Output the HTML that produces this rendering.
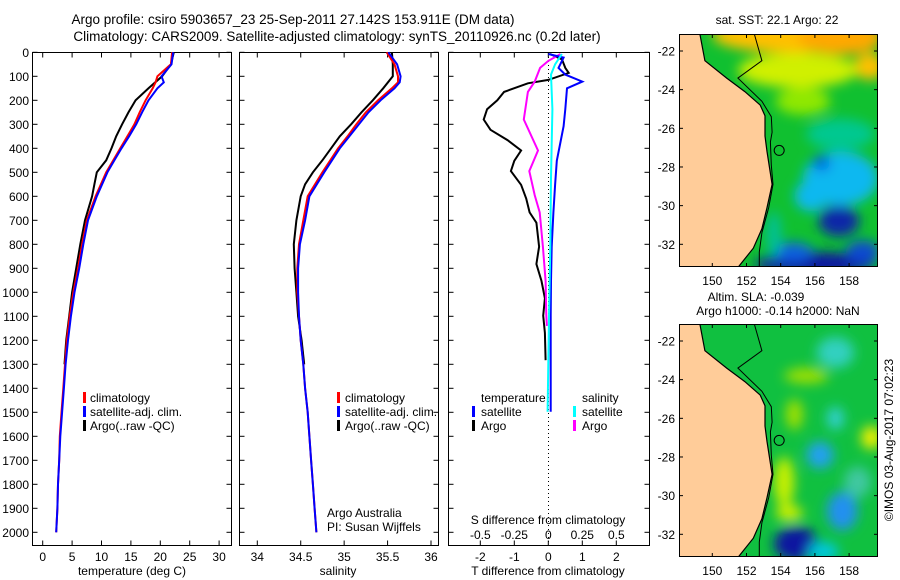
<!DOCTYPE html>
<html><head><meta charset="utf-8">
<style>
body{margin:0;background:#fff;}
svg{display:block;font-family:"Liberation Sans",sans-serif;}
text{fill:#000;}
</style></head>
<body>
<svg id="chart" width="900" height="580" viewBox="0 0 900 580" xmlns="http://www.w3.org/2000/svg">
<defs>
<filter id="blur1" x="-20%" y="-20%" width="140%" height="140%"><feGaussianBlur stdDeviation="6"/></filter>
<clipPath id="clipM1"><rect x="679" y="34" width="199" height="233"/></clipPath>
<clipPath id="clipM2"><rect x="679" y="324" width="199" height="233"/></clipPath>
</defs>
<text x="293" y="24" font-size="13.5" text-anchor="middle">Argo profile: csiro 5903657_23 25-Sep-2011 27.142S 153.911E (DM data)</text>
<text x="337" y="41" font-size="13.5" text-anchor="middle">Climatology: CARS2009. Satellite-adjusted climatology: synTS_20110926.nc (0.2d later)</text>
<g id="panels"></g>
<g id="maps"></g>
<text x="777" y="24" font-size="12" text-anchor="middle">sat. SST: 22.1  Argo: 22</text>
<text x="756" y="301" font-size="12" text-anchor="middle">Altim. SLA: -0.039</text>
<text x="778" y="315" font-size="12" text-anchor="middle">Argo h1000: -0.14 h2000: NaN</text>
<text x="0" y="0" font-size="12" text-anchor="middle" transform="translate(893,440) rotate(-90)">©IMOS 03-Aug-2017 07:02:23</text>
</svg>
<script>
const tDepth=[0,50,100,125,150,200,250,300,350,400,450,500,600,700,800,900,1000,1100,1200,1300,1400,1500,1600,1700,1800,1900,2000];
const tClim=[22.0,21.8,19.5,19.2,18.7,17.5,16.5,15.6,14.4,13.2,12.0,10.8,9.0,7.5,6.7,6.0,5.2,4.6,4.1,3.8,3.5,3.2,2.9,2.8,2.6,2.5,2.3];
const tSat=[22.2,21.9,20.2,20.6,19.5,18.0,16.9,15.9,14.7,13.4,12.2,11.0,9.2,7.7,6.9,6.2,5.4,4.8,4.3,3.9,3.6,3.3,3.0,2.8,2.6,2.5,2.3];
const argoDepth=[0,50,100,150,200,250,300,350,400,450,500,550,600,700,800,900,1000,1100,1200,1300];
const tArgo=[22.3,21.8,20.3,18.0,15.8,14.6,13.5,12.5,11.7,10.8,9.2,8.8,8.4,7.2,6.4,5.7,5.0,4.5,4.0,3.7];
const sClim=[35.49,35.58,35.62,35.62,35.55,35.39,35.25,35.14,35.04,34.93,34.84,34.75,34.58,34.53,34.48,34.46,34.46,34.48,34.5,34.53,34.55,34.58,34.6,34.62,34.64,34.66,34.68];
const sSat=[35.51,35.61,35.65,35.64,35.58,35.42,35.28,35.17,35.06,34.95,34.86,34.77,34.6,34.55,34.49,34.47,34.47,34.48,34.5,34.53,34.55,34.58,34.6,34.62,34.64,34.66,34.68];
const sArgo=[35.55,35.56,35.56,35.45,35.33,35.2,35.08,34.95,34.85,34.75,34.64,34.55,34.5,34.45,34.42,34.43,34.45,34.47,34.51,34.54];
const dtArgoDepth=[7,29,65,86,115,129,165,200,237,280,323,366,409,452,495,552,609,667,710,810,882,953,1025,1097,1169,1283];
const dtArgo=[0.05,0.4,0.5,0.6,0.0,-0.6,-1.3,-1.5,-1.8,-1.9,-1.7,-1.2,-0.8,-1.0,-1.1,-0.8,-0.65,-0.55,-0.35,-0.27,-0.35,-0.2,-0.1,-0.15,-0.1,-0.08];
const dtSatDepth=[7,22,65,93,122,150,237,308,380,452,552,667,810,953,1097,1498];
const dtSat=[0,0.45,0.3,0.5,1.0,0.55,0.5,0.45,0.35,0.25,0.2,0.15,0.1,0.08,0.07,0.07];
const dsArgoDepth=[7,36,65,122,165,280,409,495,595,667,810,953,1097,1140];
const dsArgo=[0.09,0.0,-0.06,-0.1,-0.15,-0.18,-0.076,-0.14,-0.1,-0.063,-0.04,-0.02,-0.015,-0.01];
const dsSatDepth=[7,50,93,237,523,810,1097,1498];
const dsSat=[0.1,0.05,0.02,0.03,0.02,0.015,0.005,-0.005];
const depthTicks=[0,100,200,300,400,500,600,700,800,900,1000,1100,1200,1300,1400,1500,1600,1700,1800,1900,2000];
const tempTicks=[0,5,10,15,20,25,30];
const salTicks=[34,34.5,35,35.5,36];
const tDiffTicks=[-2,-1,0,1,2];
const sDiffTicks=[-0.5,-0.25,0,0.25,0.5];
const lonTicks=[150,152,154,156,158];
const latTicks=[-22,-24,-26,-28,-30,-32];

const NS='http://www.w3.org/2000/svg';
function mk(tag,attrs,parent){const e=document.createElementNS(NS,tag);for(const k in attrs)e.setAttribute(k,attrs[k]);parent.appendChild(e);return e;}
const P=document.getElementById('panels');
const FT=52.5, FB=545.5;
const depthY=d=>52.3+d*0.24;
const tempX=t=>42.7+t*5.88;
const salX=s=>257.3+(s-34)*86.85;
const diffX=t=>548.3+t*34;
const sdiffX=s=>diffX(s*4);

function frame(x0,x1,name){
  const r=mk('rect',{x:x0,y:FT,width:x1-x0,height:FB-FT,fill:'none',stroke:'#000','stroke-width':1},P);
  
  
  depthTicks.forEach(d=>{const y=depthY(d);
    mk('line',{x1:x0,x2:x0+5,y1:y,y2:y,stroke:'#000'},P);
    mk('line',{x1:x1-5,x2:x1,y1:y,y2:y,stroke:'#000'},P);});
}
function xticks(vals,fx,labY){vals.forEach(v=>{const x=fx(v);
  mk('line',{x1:x,x2:x,y1:FB,y2:FB-5,stroke:'#000'},P);
  mk('line',{x1:x,x2:x,y1:FT,y2:FT+5,stroke:'#000'},P);
  const t=mk('text',{x:x,y:labY,'font-size':12,'text-anchor':'middle'},P);t.textContent=String(v);
  
  });}
function line(xs,ds,fx,color,name,w){
  const pts=xs.map((v,i)=>fx(v).toFixed(1)+','+depthY(ds[i]).toFixed(1)).join(' ');
  const p=mk('polyline',{points:pts,fill:'none',stroke:color,'stroke-width':w||2,'stroke-linejoin':'miter'},P);
  
  
}
function txt(x,y,s,name,anchor){const t=mk('text',{x:x,y:y,'font-size':12,'text-anchor':anchor||'start'},P);t.textContent=s;
  
  }
function bar(x,y,c){mk('rect',{x:x,y:y-10,width:3,height:11,fill:c},P);}

// Panel 1
frame(32.5,231.5,'temperature-panel');
depthTicks.forEach(d=>txt(29,depthY(d)+4.5,String(d),'depth-tick-label','end'));
xticks(tempTicks,tempX,561);
txt(132,575,'temperature (deg C)','temperature-axis-title','middle');
line(tArgo,argoDepth,tempX,'#000','temp-argo-line');
line(tClim,tDepth,tempX,'#f00','temp-climatology-line');
line(tSat,tDepth,tempX,'#00f','temp-satellite-line');
bar(83,402,'#f00');txt(90,402,'climatology','legend-climatology');
bar(83,416,'#00f');txt(90,416,'satellite-adj. clim.','legend-satellite');
bar(83,430,'#000');txt(90,430,'Argo(..raw -QC)','legend-argo');

// Panel 2
frame(239.5,438.5,'salinity-panel');
xticks(salTicks,salX,561);
txt(338,575,'salinity','salinity-axis-title','middle');
line(sArgo,argoDepth,salX,'#000','sal-argo-line');
line(sClim,tDepth,salX,'#f00','sal-climatology-line');
line(sSat,tDepth,salX,'#00f','sal-satellite-line');
bar(337,402,'#f00');txt(345,402,'climatology','legend-climatology-2');
bar(337,416,'#00f');txt(345,416,'satellite-adj. clim.','legend-satellite-2');
bar(337,430,'#000');txt(345,430,'Argo(..raw -QC)','legend-argo-2');
txt(327,517,'Argo Australia','credit-argo-australia');
txt(327,531,'PI: Susan Wijffels','credit-pi');

// Panel 3
frame(448.5,649.5,'difference-panel');
for(let y=53;y<545;y+=4) mk('rect',{x:548,y:y,width:1,height:1,fill:'#000'},P);
xticks(tDiffTicks,diffX,561);
sDiffTicks.forEach(v=>{const t=mk('text',{x:sdiffX(v),y:539,'font-size':12,'text-anchor':'middle'},P);t.textContent=String(v);
  
  });
txt(548,524,'S difference from climatology','s-diff-axis-title','middle');
txt(548,575,'T difference from climatology','t-diff-axis-title','middle');
line(dtArgo,dtArgoDepth,diffX,'#000','tdiff-argo-line');
line(dsArgo,dsArgoDepth,sdiffX,'#f0f','sdiff-argo-line');
line(dtSat,dtSatDepth,diffX,'#00f','tdiff-satellite-line');
line(dsSat,dsSatDepth,sdiffX,'#0ff','sdiff-satellite-line');
txt(481,402,'temperature','legend-temperature-heading');
bar(472,416,'#00f');txt(481,416,'satellite','legend-t-satellite');
bar(472,430,'#000');txt(481,430,'Argo','legend-t-argo');
txt(582,402,'salinity','legend-salinity-heading');
bar(573,416,'#0ff');txt(582,416,'satellite','legend-s-satellite');
bar(573,430,'#f0f');txt(582,430,'Argo','legend-s-argo');

// Maps
const M=document.getElementById('maps');
const lonX=l=>712.3+(l-150)*17.1;
const coast=[[149.27,-21.1],[149.57,-22.5],[150.84,-23.4],[151.9,-24.1],[152.8,-24.8],[153.08,-25.35],[153.08,-26.4],[153.2,-27.2],[153.5,-28.9],[153.2,-30.1],[152.9,-31.2],[152.4,-32.2],[151.45,-33.25]];
const contour=[[152.45,-21.1],[152.9,-22.5],[151.5,-23.4],[152.9,-24.6],[153.45,-25.4],[153.5,-26.2],[153.4,-26.7],[153.45,-27.9],[153.55,-28.9],[153.3,-30.1],[152.9,-31.4],[152.75,-32.4],[152.75,-33.3]];
const sstBlobs=[[154.5,-21.2,4.5,0.9,'#ffc000'],[157.5,-21.3,2.5,0.9,'#ffa800'],[159.2,-22.8,0.9,0.7,'#ffc000'],[155,-23,3.5,0.9,'#d0f000'],[155.3,-24.6,1.6,0.7,'#90e800'],[157.5,-26.3,2,0.8,'#00c890'],[157.5,-28.6,2.2,1.4,'#10b8f0'],[155.8,-29.5,1,0.8,'#10b8f0'],[156.4,-27.8,0.5,0.4,'#0060e0'],[157.4,-30.8,1.2,0.8,'#0828a8'],[156,-33.0,3.5,0.6,'#0818a0'],[154.7,-32.4,1.2,0.5,'#0860e0'],[158.8,-32.4,1,0.6,'#0848d0'],[153.6,-31.5,0.4,1.2,'#00c0a0']];
const slaBlobs=[[155.5,-23.8,1.3,0.4,'#a0e000'],[154.8,-25.8,0.5,0.8,'#a0e000'],[154.2,-29.3,0.6,1.3,'#c8f000'],[154.5,-30.9,0.8,0.4,'#d0f000'],[159.3,-27,0.6,0.6,'#f0f000'],[157.2,-22.6,1.1,0.8,'#30d0c0'],[157.2,-26,0.5,0.6,'#30d0d0'],[156.3,-27.9,0.8,0.7,'#20a0f0'],[157.6,-30.8,0.9,1.0,'#2090f0'],[154.9,-32.5,1.3,0.9,'#0818a0'],[156.5,-32.9,0.9,0.5,'#00c8e0'],[158.5,-29.3,0.8,0.8,'#40c8a0']];
function drawMap(y0,bg,blobs,clip,name){
  const latY=lat=>y0+17+(-22-lat)*19.33;
  const g=mk('g',{'clip-path':'url(#'+clip+')'},M);
  
  
  mk('rect',{x:679,y:y0,width:199,height:233,fill:bg},g);
  const bg2=mk('g',{filter:'url(#blur1)'},g);
  blobs.forEach(b=>{const e=mk('ellipse',{cx:lonX(b[0]),cy:latY(b[1]),rx:b[2]*17.1,ry:b[3]*19.33,fill:b[4]},bg2);
    
    });
  const pts=coast.map(c=>lonX(c[0]).toFixed(1)+','+latY(c[1]).toFixed(1));
  mk('polygon',{points:'679,'+(y0-5)+' '+pts.join(' ')+' 679,'+(y0+240),fill:'#ffcc99',stroke:'#000','stroke-width':1.2},g);
  mk('polyline',{points:contour.map(c=>lonX(c[0]).toFixed(1)+','+latY(c[1]).toFixed(1)).join(' '),fill:'none',stroke:'#000','stroke-width':1},g);
  const c=mk('circle',{cx:lonX(153.911),cy:latY(-27.142),r:5,fill:'none',stroke:'#000','stroke-width':1},g);
  
  
  const f=mk('rect',{x:679.5,y:y0+0.5,width:198,height:232,fill:'none',stroke:'#000'},M);
  
  
  lonTicks.forEach(l=>{const x=lonX(l);
    mk('line',{x1:x,x2:x,y1:y0,y2:y0+4,stroke:'#000'},M);
    mk('line',{x1:x,x2:x,y1:y0+233,y2:y0+229,stroke:'#000'},M);
    const t=mk('text',{x:x,y:y0+251,'font-size':12,'text-anchor':'middle'},M);t.textContent=String(l);
    
    });
  latTicks.forEach(l=>{const y=latY(l);
    mk('line',{x1:679,x2:683,y1:y,y2:y,stroke:'#000'},M);
    mk('line',{x1:874,x2:878,y1:y,y2:y,stroke:'#000'},M);
    const t=mk('text',{x:675,y:y+4.5,'font-size':12,'text-anchor':'end'},M);t.textContent=String(l);
    
    });
}
drawMap(34,'#10c030',sstBlobs,'clipM1','sst-map');
drawMap(324,'#10c040',slaBlobs,'clipM2','sla-map');
</script>
</body></html>
